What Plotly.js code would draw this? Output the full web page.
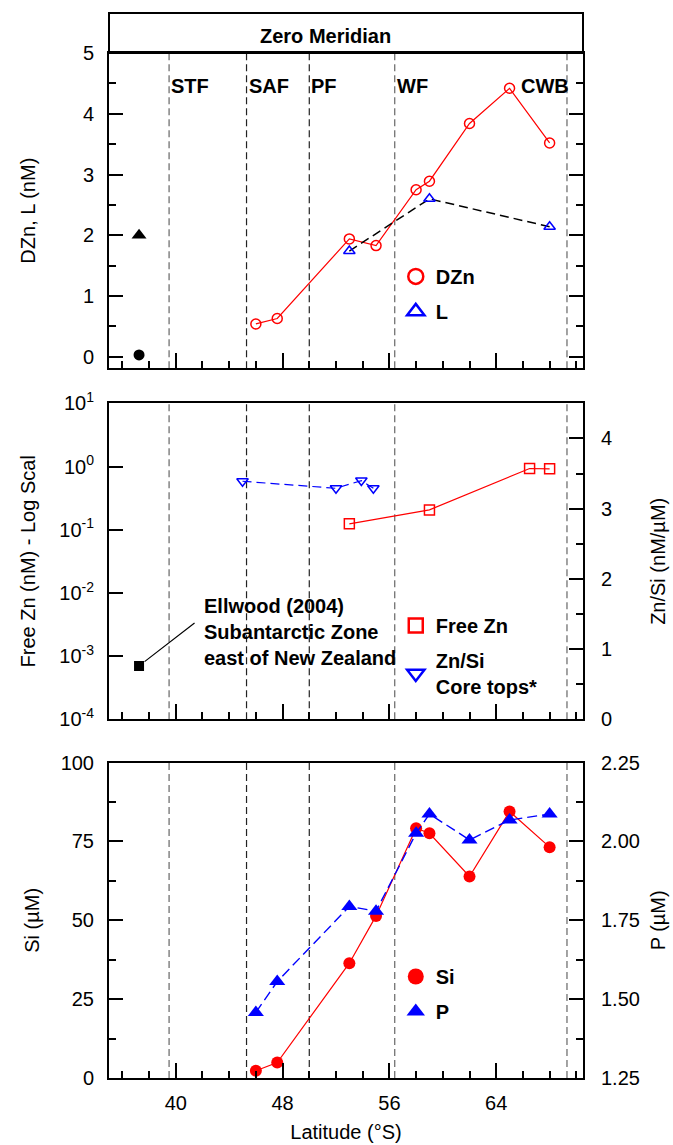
<!DOCTYPE html>
<html>
<head>
<meta charset="utf-8">
<script src="https://cdn.plot.ly/plotly-3.0.1.min.js"></script>
<style>html,body{margin:0;padding:0;background:#fff;}#chart{width:673px;height:1145px;}</style>
</head>
<body>
<div id="chart"></div>
<script>
// ---------- data ----------
const fronts = [39.5, 45.3, 50.0, 56.4, 69.3];
const frontNames = ['STF', 'SAF', 'PF', 'WF', 'CWB'];

const latDZn = [46.0, 47.6, 53.0, 55.0, 58.0, 59.0, 62.0, 65.0, 68.0];
const DZn = [0.54, 0.63, 1.94, 1.83, 2.75, 2.89, 3.84, 4.42, 3.52];
const latL = [53.0, 59.0, 68.0];
const L = [1.74, 2.60, 2.14];

const ellwoodLat = [37.25];
const ellwoodDZn = [0.03];
const ellwoodL = [2.0];
const ellwoodFreeZn = [0.0007];

const latFreeZn = [53.0, 59.0, 66.5, 68.0];
const FreeZn = [0.124, 0.206, 0.93, 0.92];
const latZnSi = [45.0, 52.0, 53.9, 54.8];
const ZnSi = [3.39, 3.29, 3.40, 3.29];

const latNut = [46.0, 47.6, 53.0, 55.0, 58.0, 59.0, 62.0, 65.0, 68.0];
const Si = [2.3, 4.9, 36.4, 51.4, 79.2, 77.6, 63.9, 84.5, 73.2];
const P = [1.458, 1.556, 1.794, 1.779, 2.026, 2.087, 2.005, 2.068, 2.087];

const logTickVals = [1e-4, 1e-3, 1e-2, 1e-1, 1, 10];
const logTickText = ['10<sup>-4</sup>', '10<sup>-3</sup>', '10<sup>-2</sup>', '10<sup>-1</sup>', '10<sup>0</sup>', '10<sup>1</sup>'];

// ---------- style ----------
const FONT = 'Liberation Sans, Arial, Helvetica, sans-serif';
const RED = '#ff0000', BLUE = '#0000ff';

const traces = [
  // top panel
  {x: latDZn, y: DZn, xaxis: 'x3', yaxis: 'y', mode: 'lines+markers', showlegend: false,
   line: {color: RED, width: 1.2}, marker: {symbol: 'circle-open', size: 10, color: RED, line: {width: 1.5}}},
  {x: latL, y: L, xaxis: 'x3', yaxis: 'y', mode: 'lines+markers', showlegend: false,
   line: {color: '#000', width: 1.5, dash: '9px,5px'}, marker: {symbol: 'triangle-up-open', size: 10, color: BLUE, line: {width: 1.5}}},
  {x: ellwoodLat, y: ellwoodL, xaxis: 'x3', yaxis: 'y', mode: 'markers', showlegend: false,
   marker: {symbol: 'triangle-up', size: 13, color: '#000'}},
  {x: ellwoodLat, y: ellwoodDZn, xaxis: 'x3', yaxis: 'y', mode: 'markers', showlegend: false,
   marker: {symbol: 'circle', size: 11, color: '#000'}},
  {x: [null], y: [null], xaxis: 'x3', yaxis: 'y', mode: 'markers', name: '<b>DZn</b>', legend: 'legend', legendgroup: 'a',
   marker: {symbol: 'circle-open', size: 15, color: RED, line: {width: 2.5}}},
  {x: [null], y: [null], xaxis: 'x3', yaxis: 'y', mode: 'markers', name: '<b>L</b>', legend: 'legend', legendgroup: 'b',
   marker: {symbol: 'triangle-up-open', size: 15, color: BLUE, line: {width: 2.5}}},

  // middle panel
  {x: latFreeZn, y: FreeZn, xaxis: 'x2', yaxis: 'y2', mode: 'lines+markers', showlegend: false,
   line: {color: RED, width: 1.2}, marker: {symbol: 'square-open', size: 10, color: RED, line: {width: 1.5}}},
  {x: ellwoodLat, y: ellwoodFreeZn, xaxis: 'x2', yaxis: 'y2', mode: 'markers', showlegend: false,
   marker: {symbol: 'square', size: 10, color: '#000'}},
  {x: latZnSi, y: ZnSi, xaxis: 'x2', yaxis: 'y3', mode: 'lines+markers', showlegend: false,
   line: {color: BLUE, width: 1.2, dash: '9px,5px'}, marker: {symbol: 'triangle-down-open', size: 10, color: BLUE, line: {width: 1.5}}},
  {x: [null], y: [null], xaxis: 'x2', yaxis: 'y2', mode: 'markers', name: '<b>Free Zn</b>', legend: 'legend2', legendgroup: 'c',
   marker: {symbol: 'square-open', size: 14, color: RED, line: {width: 2.5}}},
  {x: [null], y: [null], xaxis: 'x2', yaxis: 'y2', mode: 'markers', name: '<b>Zn/Si<br>Core tops*</b>', legend: 'legend2', legendgroup: 'd',
   marker: {symbol: 'triangle-down-open', size: 15, color: BLUE, line: {width: 2.5}}},

  // bottom panel
  {x: latNut, y: Si, xaxis: 'x', yaxis: 'y4', mode: 'lines+markers', showlegend: false,
   line: {color: RED, width: 1.2}, marker: {symbol: 'circle', size: 12, color: RED}},
  {x: latNut, y: P, xaxis: 'x', yaxis: 'y5', mode: 'lines+markers', showlegend: false,
   line: {color: BLUE, width: 1.4, dash: '10px,5px'}, marker: {symbol: 'triangle-up', size: 14, color: BLUE}},
  {x: [null], y: [null], xaxis: 'x', yaxis: 'y4', mode: 'markers', name: '<b>Si</b>', legend: 'legend3', legendgroup: 'e',
   marker: {symbol: 'circle', size: 16, color: RED}},
  {x: [null], y: [null], xaxis: 'x', yaxis: 'y4', mode: 'markers', name: '<b>P</b>', legend: 'legend3', legendgroup: 'f',
   marker: {symbol: 'triangle-up', size: 16, color: BLUE}}
];

const tickFont = {family: FONT, size: 20, color: '#000'};
const titleFont = {family: FONT, size: 20, color: '#000'};

const baseX = {
  range: [35, 70.5], tick0: 40, dtick: 8, ticks: 'inside', ticklen: 15, tickwidth: 2, tickcolor: '#000',
  minor: {dtick: 2, tick0: 40, ticks: 'inside', ticklen: 7, tickwidth: 2, tickcolor: '#000'},
  showline: true, linewidth: 2, linecolor: '#000', mirror: true, showgrid: false, zeroline: false,
  tickfont: tickFont, fixedrange: true
};

const legendBase = {bgcolor: 'rgba(0,0,0,0)', borderwidth: 0, font: {family: FONT, size: 20, color: '#000'},
  xanchor: 'left', yanchor: 'top', tracegroupgap: 6, itemsizing: 'trace'};

const shapes = [];
const annotations = [];
['y', 'y2', 'y4'].forEach(function (ya) {
  fronts.forEach(function (f, i) {
    const gray = (i === 0 || i === 4 || i === 3);
    shapes.push({type: 'line', xref: ya === 'y' ? 'x3' : (ya === 'y2' ? 'x2' : 'x'), yref: ya + ' domain',
      x0: f, x1: f, y0: 0, y1: 1, layer: 'below',
      line: {color: gray ? '#666' : '#222', width: 1.2, dash: '7px,4px'}});
  });
});
fronts.forEach(function (f, i) {
  const last = i === fronts.length - 1;
  annotations.push({xref: 'x3', yref: 'y', x: f, y: 4.46, text: '<b>' + frontNames[i] + '</b>',
    showarrow: false, xanchor: last ? 'right' : 'left', yanchor: 'middle', xshift: last ? 4 : 0,
    font: {family: FONT, size: 20, color: '#000'}});
});
// Zero Meridian box
shapes.push({type: 'rect', xref: 'paper', yref: 'paper', x0: 0, x1: 1, y0: 0.9624, y1: 1,
  line: {color: '#000', width: 2}, fillcolor: 'rgba(0,0,0,0)'});
annotations.push({xref: 'paper', yref: 'paper', x: 0.456, y: 0.9787, text: '<b>Zero Meridian</b>',
  showarrow: false, xanchor: 'center', yanchor: 'middle', font: {family: FONT, size: 20, color: '#000'}});
// Ellwood note
annotations.push({xref: 'paper', yref: 'paper', x: 0.197, y: 0.419, xanchor: 'left', yanchor: 'middle', align: 'left',
  text: '<b>Ellwood (2004)<br>Subantarctic Zone<br>east of New Zealand</b>', showarrow: false,
  font: {family: FONT, size: 20, color: '#000'}});
annotations.push({xref: 'x2', yref: 'y2', x: ellwoodLat[0], y: Math.log10(ellwoodFreeZn[0]), text: '',
  showarrow: true, arrowhead: 0, arrowwidth: 1.2, arrowcolor: '#000', ax: 57, ay: -44, standoff: 7});

const layout = {
  width: 673, height: 1145,
  margin: {l: 109, r: 90, t: 13, b: 67},
  paper_bgcolor: '#fff', plot_bgcolor: '#fff',
  font: {family: FONT, size: 20, color: '#000'},
  xaxis: Object.assign({}, baseX, {anchor: 'y4', ticklabelstandoff: 6,
    title: {text: 'Latitude (°S)', font: titleFont, standoff: 12}}),
  xaxis2: Object.assign({}, baseX, {anchor: 'y2', matches: 'x', showticklabels: false}),
  xaxis3: Object.assign({}, baseX, {anchor: 'y', matches: 'x', showticklabels: false}),
  yaxis: {domain: [0.6664, 0.9624], anchor: 'x3', range: [-0.19, 5], dtick: 1, tick0: 0,
    ticks: 'inside', ticklen: 14, tickwidth: 2, tickcolor: '#000',
    minor: {dtick: 0.5, tick0: 0, ticks: 'inside', ticklen: 7, tickwidth: 2, tickcolor: '#000'},
    showline: true, linewidth: 2, linecolor: '#000', mirror: 'ticks', showgrid: false, zeroline: false,
    tickfont: tickFont, ticklabelstandoff: 9,
    title: {text: 'DZn, L (nM)', font: titleFont, standoff: 42}},
  yaxis2: {domain: [0.3368, 0.6335], anchor: 'x2', type: 'log', range: [-4, 1],
    tickvals: logTickVals, ticktext: logTickText,
    ticks: 'inside', ticklen: 14, tickwidth: 2, tickcolor: '#000',
    showline: true, linewidth: 2, linecolor: '#000', mirror: true, showgrid: false, zeroline: false,
    tickfont: tickFont, ticklabelstandoff: 9,
    title: {text: 'Free Zn (nM) - Log Scal', font: titleFont, standoff: 18}},
  yaxis3: {overlaying: 'y2', side: 'right', anchor: 'x2', range: [0, 4.5], dtick: 1, tick0: 0,
    ticks: 'inside', ticklen: 14, tickwidth: 2, tickcolor: '#000',
    minor: {dtick: 0.5, tick0: 0, ticks: 'inside', ticklen: 7, tickwidth: 2, tickcolor: '#000'},
    showline: true, linewidth: 2, linecolor: '#000', showgrid: false, zeroline: false,
    tickfont: tickFont, ticklabelstandoff: 12,
    title: {text: 'Zn/Si (nM/µM)', font: titleFont, standoff: 40}},
  yaxis4: {domain: [0, 0.2961], anchor: 'x', range: [0, 100], dtick: 25, tick0: 0,
    ticks: 'inside', ticklen: 14, tickwidth: 2, tickcolor: '#000',
    minor: {dtick: 12.5, tick0: 0, ticks: 'inside', ticklen: 7, tickwidth: 2, tickcolor: '#000'},
    showline: true, linewidth: 2, linecolor: '#000', mirror: true, showgrid: false, zeroline: false,
    tickfont: tickFont, ticklabelstandoff: 9,
    title: {text: 'Si (µM)', font: titleFont, standoff: 16}},
  yaxis5: {overlaying: 'y4', side: 'right', anchor: 'x', range: [1.25, 2.25], dtick: 0.25, tick0: 1.25,
    tickformat: '.2f',
    ticks: 'inside', ticklen: 14, tickwidth: 2, tickcolor: '#000',
    minor: {dtick: 0.125, tick0: 1.25, ticks: 'inside', ticklen: 7, tickwidth: 2, tickcolor: '#000'},
    showline: true, linewidth: 2, linecolor: '#000', showgrid: false, zeroline: false,
    tickfont: tickFont, ticklabelstandoff: 12,
    title: {text: 'P (µM)', font: titleFont, standoff: 12}},
  legend: Object.assign({}, legendBase, {x: 0.605, y: 0.771}),
  legend2: Object.assign({}, legendBase, {x: 0.605, y: 0.4432}),
  legend3: Object.assign({}, legendBase, {x: 0.605, y: 0.1136}),
  shapes: shapes,
  annotations: annotations,
  showlegend: true
};

Plotly.newPlot('chart', traces, layout, {displayModeBar: false, staticPlot: true});
</script>
</body>
</html>
